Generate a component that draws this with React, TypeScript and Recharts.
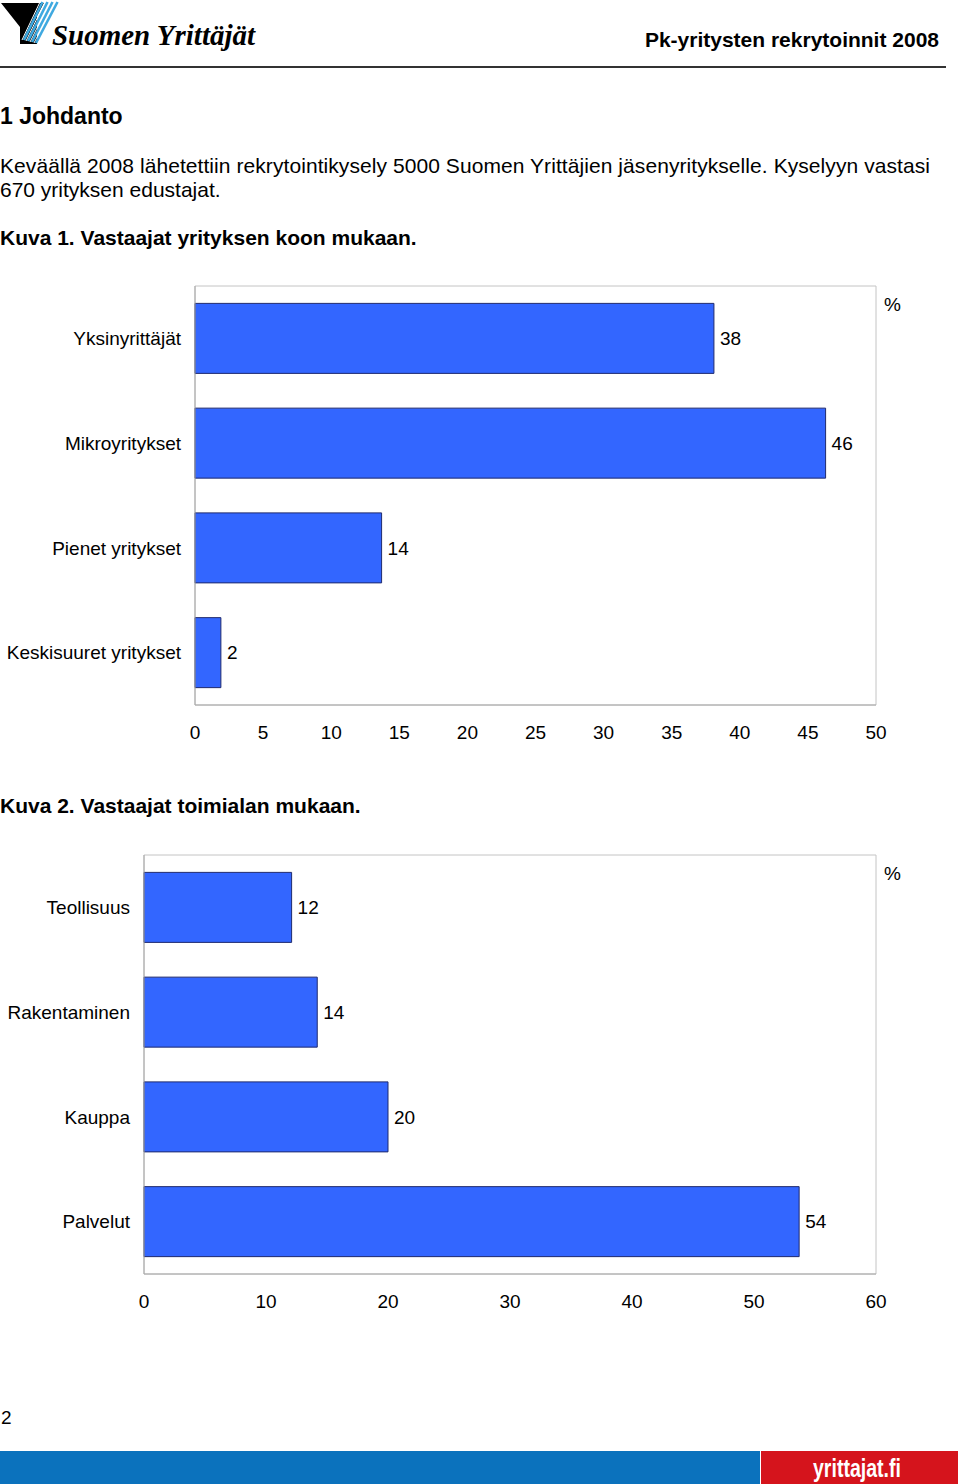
import React from 'react';
import { BarChart, Bar, XAxis, YAxis, LabelList, ReferenceArea } from 'recharts';

const sizeCategories = ['Yksinyrittäjät', 'Mikroyritykset', 'Pienet yritykset', 'Keskisuuret yritykset'];
const sizeValues = [38.1, 46.3, 13.7, 1.9];
const sizeTicks = [0, 5, 10, 15, 20, 25, 30, 35, 40, 45, 50];

const industryCategories = ['Teollisuus', 'Rakentaminen', 'Kauppa', 'Palvelut'];
const industryValues = [12.1, 14.2, 20.0, 53.7];
const industryTicks = [0, 10, 20, 30, 40, 50, 60];

const edgeTicks = [0, 1, 2, 3, 4];

const FONT = '"Liberation Sans", Arial, Helvetica, sans-serif';
const AXIS_GRAY = '#a8a8a8';
const FRAME_GRAY = '#c4c4c4';

type HBarProps = {
  categories: string[];
  values: number[];
  ticks: number[];
  axisWidth: number;
};

function HBarChart({ categories, values, ticks, axisWidth }: HBarProps) {
  const data = categories.map((c, i) => ({ name: c, value: values[i] }));
  const max = ticks[ticks.length - 1];
  return (
    <BarChart
      width={960}
      height={480}
      data={data}
      layout="vertical"
      margin={{ top: 16, right: 84, bottom: 0, left: 0 }}
      barCategoryGap="16.6%"
      style={{ fontFamily: FONT }}
    >
      <ReferenceArea x1={0} x2={max} fill="none" stroke={FRAME_GRAY} strokeWidth={1} ifOverflow="visible" />
      <XAxis
        type="number"
        domain={[0, max]}
        ticks={ticks}
        interval={0}
        height={45}
        tickLine={false}
        tickSize={0}
        tickMargin={21}
        axisLine={{ stroke: AXIS_GRAY }}
        tick={{ fill: '#000', fontSize: 19, fontFamily: FONT }}
      />
      <YAxis
        type="category"
        dataKey="name"
        width={axisWidth}
        tickLine={false}
        tickSize={0}
        tickMargin={14}
        axisLine={{ stroke: AXIS_GRAY }}
        tick={{ fill: '#000', fontSize: 19, fontFamily: FONT }}
        interval={0}
      />
      <YAxis
        yAxisId="edges"
        type="number"
        domain={[0, 4]}
        ticks={edgeTicks}
        allowDataOverflow
        mirror
        width={0}
        tickSize={-5}
        tick={false}
        axisLine={false}
        tickLine={{ stroke: AXIS_GRAY }}
      />
      <Bar dataKey="value" fill="#3366ff" stroke="#1f2a6e" strokeWidth={1} isAnimationActive={false}>
        <LabelList
          dataKey="value"
          position="right"
          offset={6}
          fill="#000"
          fontSize={19}
          fontFamily={FONT}
          formatter={(v: any) => Math.round(Number(v))}
        />
      </Bar>
    </BarChart>
  );
}

const abs = (left: number, top: number, extra: React.CSSProperties = {}): React.CSSProperties => ({
  position: 'absolute',
  left,
  top,
  whiteSpace: 'nowrap',
  ...extra,
});

export default function App() {
  return (
    <div
      style={{
        position: 'absolute',
        left: 0,
        top: 0,
        width: 960,
        height: 1484,
        background: '#fff',
        fontFamily: FONT,
        color: '#000',
        overflow: 'hidden',
      }}
    >
      {/* Logo */}
      <svg style={abs(0, 0)} width={300} height={60}>
        <polygon points="1,3 44,3 37,16 37,44 20,44 20,27" fill="#000" />
        <g stroke="#fff" strokeWidth={1}>
          <line x1={40} y1={2} x2={22} y2={40} />
          <line x1={45} y1={2} x2={26} y2={41} />
          <line x1={50} y1={2} x2={30} y2={42} />
          <line x1={55} y1={2} x2={34} y2={43} />
        </g>
        <g stroke="#3fa9e0" strokeWidth={2.6}>
          <line x1={42.5} y1={2} x2={24} y2={40} />
          <line x1={47.5} y1={2} x2={28} y2={41} />
          <line x1={52.5} y1={2} x2={32} y2={42} />
          <line x1={57.5} y1={2} x2={36} y2={43} />
        </g>
        <text
          x={52}
          y={45}
          fontFamily='"Liberation Serif", "DejaVu Serif", serif'
          fontWeight="bold"
          fontStyle="italic"
          fontSize={30}
          textLength={203}
          lengthAdjust="spacingAndGlyphs"
          fill="#000"
        >
          Suomen Yrittäjät
        </text>
      </svg>
      <div style={abs(0, 28, { width: 939, textAlign: 'right', fontSize: 21, lineHeight: '24px', fontWeight: 'bold' })}>
        Pk-yritysten rekrytoinnit 2008
      </div>
      <div style={abs(0, 66, { width: 946, height: 2, background: '#333' })} />

      <div style={abs(0, 103, { fontSize: 23, lineHeight: '26px', fontWeight: 'bold' })}>1 Johdanto</div>
      <div style={abs(0, 154, { fontSize: 21, lineHeight: '24px', letterSpacing: '0.07px' })}>
        Keväällä 2008 lähetettiin rekrytointikysely 5000 Suomen Yrittäjien jäsenyritykselle. Kyselyyn vastasi
      </div>
      <div style={abs(0, 178, { fontSize: 21, lineHeight: '24px' })}>670 yrityksen edustajat.</div>
      <div style={abs(0, 226, { fontSize: 21, lineHeight: '24px', fontWeight: 'bold' })}>
        Kuva 1. Vastaajat yrityksen koon mukaan.
      </div>

      <div style={abs(0, 270)}>
        <HBarChart categories={sizeCategories} values={sizeValues} ticks={sizeTicks} axisWidth={195} />
      </div>
      <div style={abs(884, 294, { fontSize: 19, lineHeight: '22px' })}>%</div>

      <div style={abs(0, 794, { fontSize: 21, lineHeight: '24px', fontWeight: 'bold' })}>
        Kuva 2. Vastaajat toimialan mukaan.
      </div>

      <div style={abs(0, 839)}>
        <HBarChart categories={industryCategories} values={industryValues} ticks={industryTicks} axisWidth={144} />
      </div>
      <div style={abs(884, 863, { fontSize: 19, lineHeight: '22px' })}>%</div>

      <div style={abs(1, 1407, { fontSize: 19, lineHeight: '22px' })}>2</div>

      {/* Footer */}
      <svg style={abs(0, 1451)} width={960} height={33}>
        <rect x={0} y={0} width={760} height={33} fill="#0b72bd" />
        <rect x={761} y={0} width={197} height={33} fill="#d5141c" />
        <text
          x={813}
          y={26}
          fontFamily={FONT}
          fontWeight="bold"
          fontSize={25}
          textLength={88}
          lengthAdjust="spacingAndGlyphs"
          fill="#fff"
        >
          yrittajat.fi
        </text>
      </svg>
    </div>
  );
}
